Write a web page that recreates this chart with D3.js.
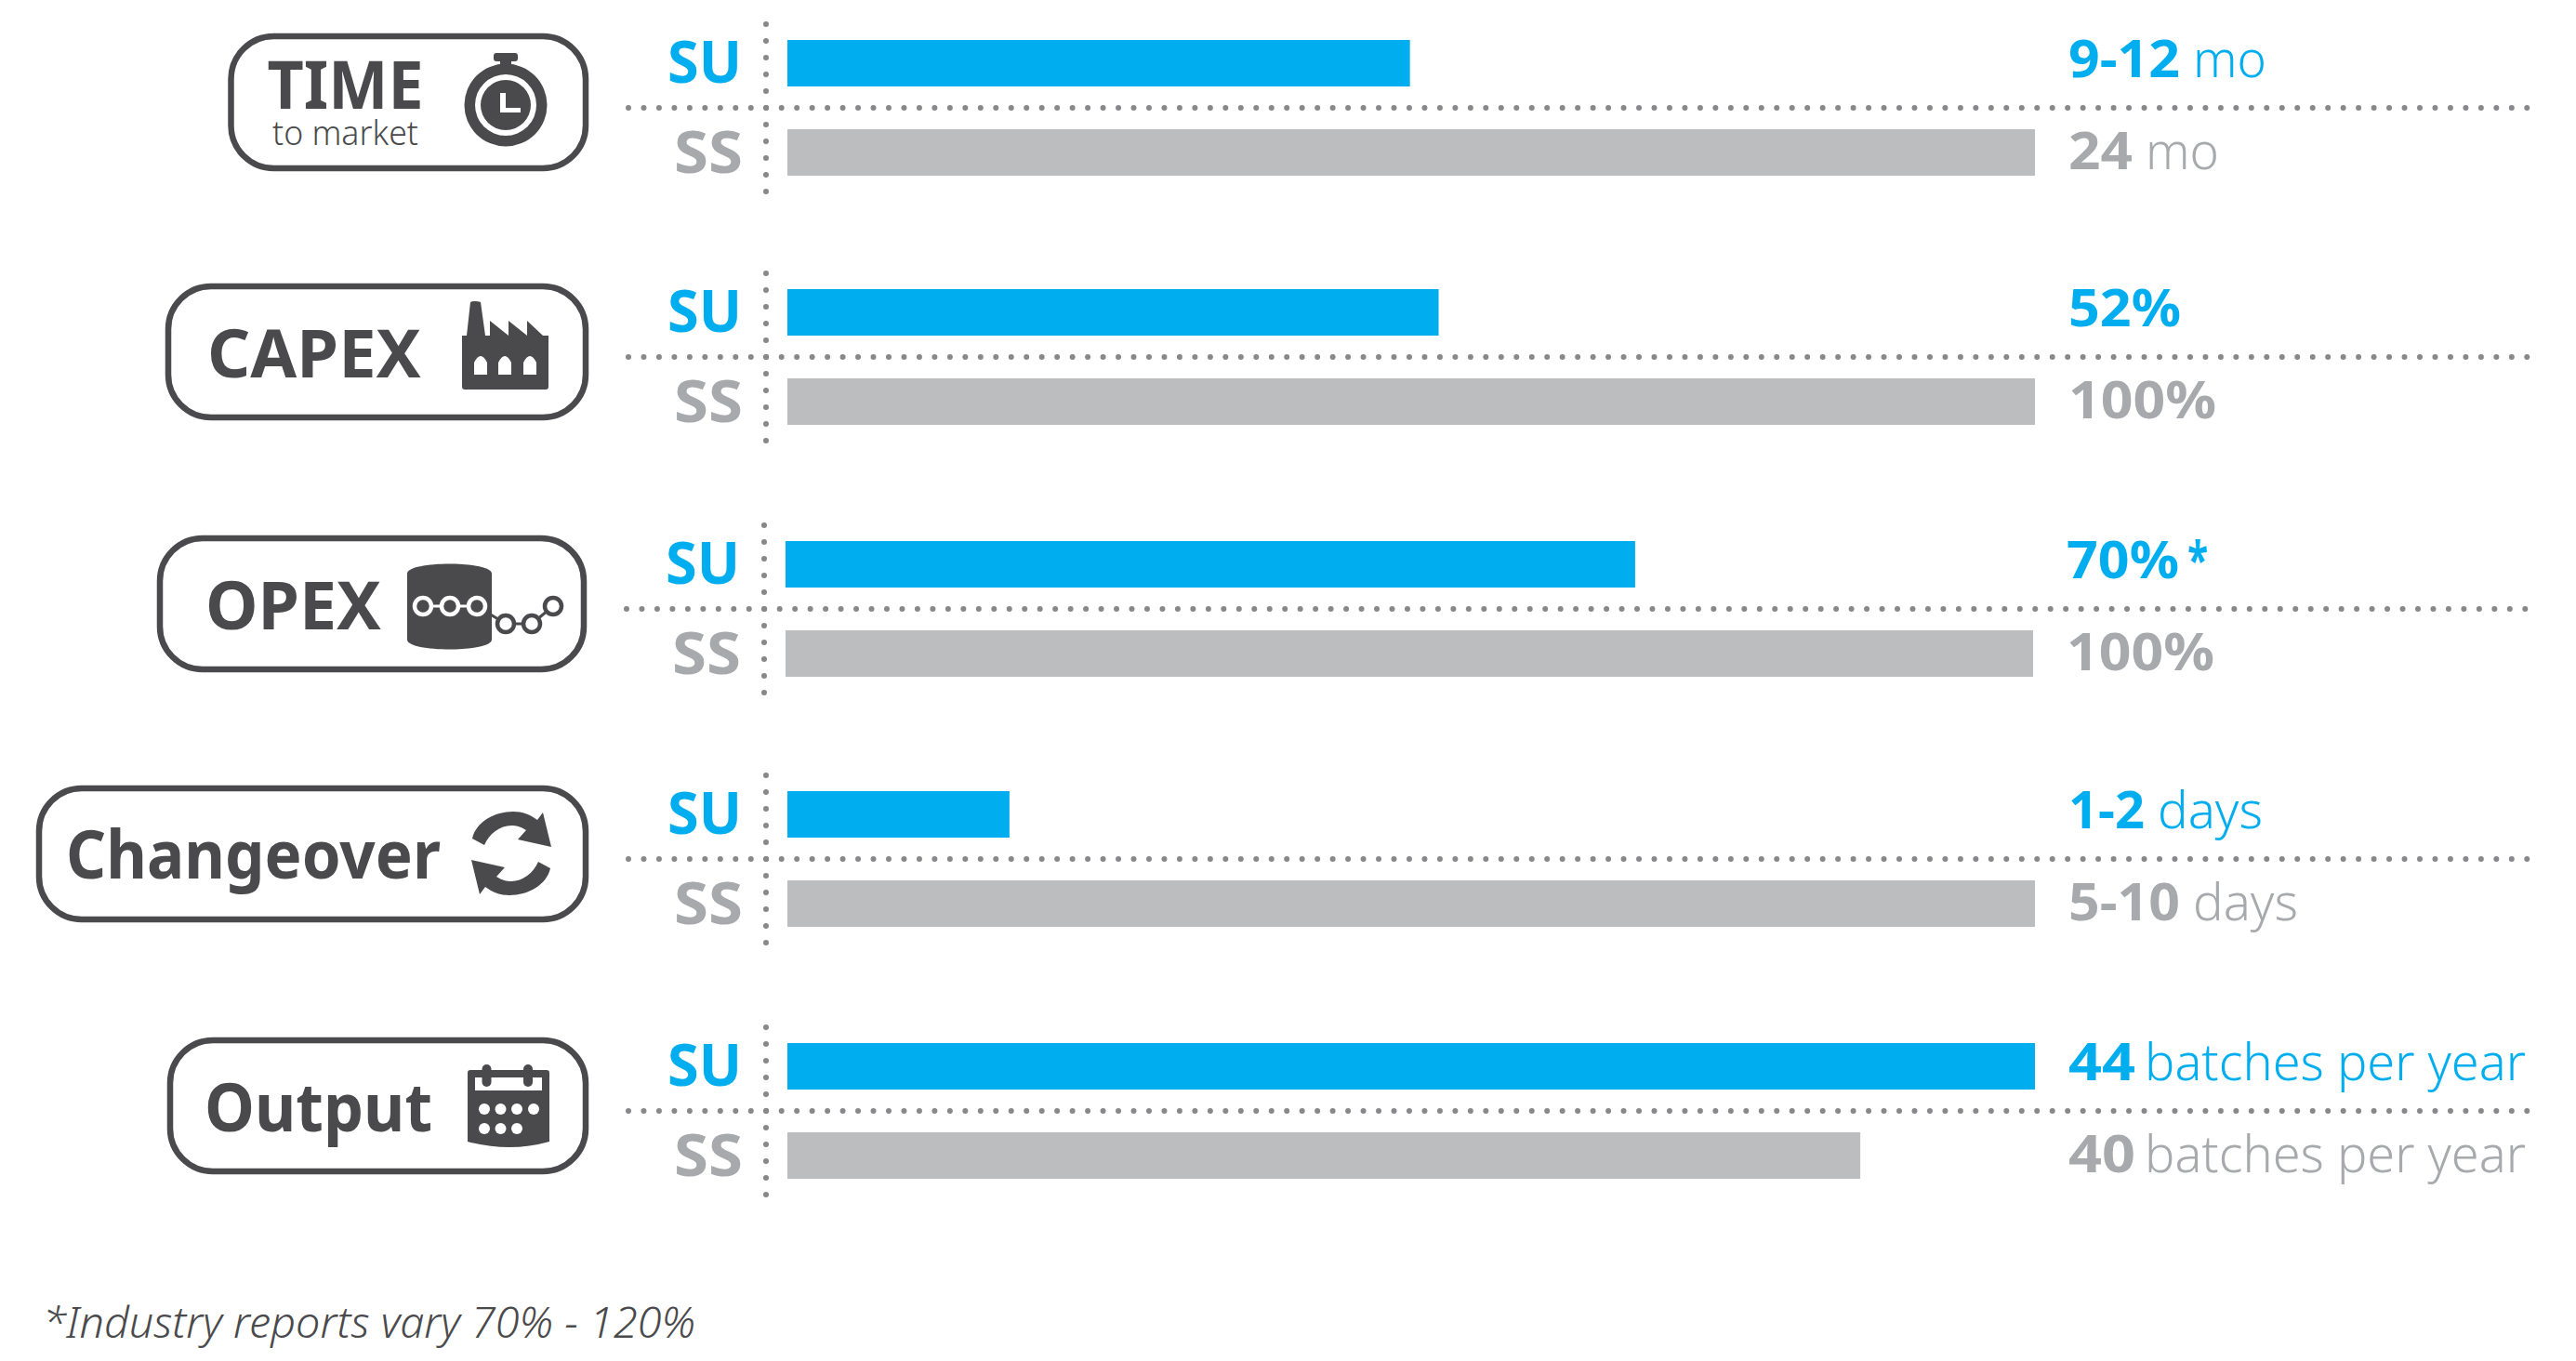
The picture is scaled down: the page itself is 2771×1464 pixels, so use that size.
<!DOCTYPE html>
<html>
<head>
<meta charset="utf-8">
<script src="https://cdn.jsdelivr.net/npm/d3@7"></script>
<style>
  html, body { margin: 0; padding: 0; background: #fff; }
  svg { display: block; }
  text { font-family: "Noto Sans", sans-serif; }
</style>
</head>
<body>
<svg id="chart" width="2771" height="1464"></svg>
<script>
const metrics = ["TIME", "CAPEX", "OPEX", "Changeover", "Output"];
const series = ["SU", "SS"];
// bar lengths as a share of the full bar
const suValues = [49.9, 52.2, 68.1, 17.8, 100];
const ssValues = [100, 100, 100, 100, 86];
const suNumbers = ["9-12", "52%", "70%", "1-2", "44"];
const ssNumbers = ["24", "100%", "100%", "5-10", "40"];
const suUnits = ["mo", "", "*", "days", "batches per year"];
const ssUnits = ["mo", "", "", "days", "batches per year"];
const footnote = "*Industry reports vary 70% - 120%";

// the original typeface is narrower than Noto Sans, so widths are forced to match
const textWidths = {
  "9-12": 120, "52%": 121, "70%": 121, "1-2": 82, "44": 72,
  "24": 69, "100%": 159, "5-10": 120, "40": 72,
  "mo": 79, "days": 113, "batches per year": 410, "*": 22,
  "SU": 80, "SS": 74,
  "TIME": 168, "to market": 157, "CAPEX": 230, "OPEX": 189, "Changeover": 403, "Output": 245
};

const BLUE = "#00aeef", BAR_GREY = "#bbbdbf", TEXT_GREY = "#a7a9ac", DARK = "#4a4a4c", DOTS = "#88888b";

const svg = d3.select("#chart");

const fit = (sel, w) => sel.attr("textLength", w).attr("lengthAdjust", "spacingAndGlyphs");

const x = d3.scaleLinear().domain([0, 100]).range([847, 2189]);
const rowTop = d3.scaleOrdinal().domain(metrics).range([43, 311, 582, 851, 1122]);
const rowShift = d3.scaleOrdinal().domain(metrics).range([0, 0, -2, 0, 0]);
const barTop = d3.scaleOrdinal().domain(series).range([0, 96]);
const barHeight = 50;

const rows = svg.selectAll(".row")
  .data(metrics.map((name, i) => ({
    name,
    su: suValues[i], ss: ssValues[i],
    suNum: suNumbers[i], ssNum: ssNumbers[i],
    suUnit: suUnits[i], ssUnit: ssUnits[i]
  })))
  .enter().append("g")
  .attr("class", "row")
  .attr("transform", d => `translate(${rowShift(d.name)},${rowTop(d.name)})`);

// dotted cross
rows.append("line")
  .attr("x1", 676).attr("x2", 2722).attr("y1", 73).attr("y2", 73)
  .attr("stroke", DOTS).attr("stroke-width", 6).attr("stroke-linecap", "round")
  .attr("stroke-dasharray", "0 16.47");
rows.append("line")
  .attr("x1", 824).attr("x2", 824).attr("y1", -17).attr("y2", 164)
  .attr("stroke", DOTS).attr("stroke-width", 6).attr("stroke-linecap", "round")
  .attr("stroke-dasharray", "0 18");

// bars
rows.selectAll(".bar")
  .data(d => series.map(s => ({ s, v: s === "SU" ? d.su : d.ss })))
  .enter().append("rect")
  .attr("class", "bar")
  .attr("x", x(0))
  .attr("y", d => barTop(d.s))
  .attr("width", d => x(d.v) - x(0))
  .attr("height", barHeight)
  .attr("fill", d => d.s === "SU" ? BLUE : BAR_GREY);

// SU / SS labels
rows.selectAll(".series")
  .data(series)
  .enter().append("text")
  .attr("class", "series")
  .attr("x", s => s === "SU" ? 718 : 725)
  .attr("y", s => s === "SU" ? 46 : 143)
  .attr("font-size", 62)
  .attr("font-weight", 700)
  .attr("fill", s => s === "SU" ? BLUE : TEXT_GREY)
  .text(s => s)
  .each(function (s) { fit(d3.select(this), textWidths[s]); });

// value labels: bold number, light unit
rows.selectAll(".value")
  .data(d => [
    { num: d.suNum, unit: d.suUnit, y: 40, c: BLUE },
    { num: d.ssNum, unit: d.ssUnit, y: 139, c: TEXT_GREY }
  ])
  .enter().append("g")
  .attr("class", "value")
  .attr("fill", d => d.c)
  .attr("font-size", 56)
  .each(function (d) {
    const g = d3.select(this);
    const left = 2225;
    const numW = textWidths[d.num];
    fit(g.append("text").attr("x", left).attr("y", d.y).attr("font-weight", 700).text(d.num), numW);
    if (d.unit) {
      const gap = d.unit === "*" ? 9 : d.unit === "batches per year" ? 10 : 14;
      fit(g.append("text")
        .attr("x", left + numW + gap)
        .attr("y", d.y)
        .attr("font-weight", d.unit === "*" ? 700 : 300)
        .text(d.unit), textWidths[d.unit]);
    }
  });

// pills on the left
const pills = [
  { x0: 245.5, y0: 36, x1: 633, y1: 184 },
  { x0: 178, y0: 305, x1: 633, y1: 452 },
  { x0: 169, y0: 576, x1: 631, y1: 723 },
  { x0: 39, y0: 845, x1: 633, y1: 992 },
  { x0: 180, y0: 1116, x1: 633, y1: 1263 }
];
svg.selectAll(".pill")
  .data(pills)
  .enter().append("rect")
  .attr("class", "pill")
  .attr("x", d => d.x0 + 3)
  .attr("y", d => d.y0 + 3)
  .attr("width", d => d.x1 - d.x0 - 6)
  .attr("height", d => d.y1 - d.y0 - 6)
  .attr("rx", 46)
  .attr("fill", "#fff")
  .attr("stroke", DARK)
  .attr("stroke-width", 6.5);

const pillText = (label, tx, ty, size, weight) => fit(svg.append("text")
  .attr("x", tx).attr("y", ty)
  .attr("font-size", size).attr("font-weight", weight)
  .attr("fill", DARK).text(label), textWidths[label]);

pillText("TIME", 287.5, 117, 71, 700);
pillText("to market", 293, 156, 36, 300);
pillText("CAPEX", 223, 405.5, 71, 700);
pillText("OPEX", 221, 677, 71, 700);
pillText("Changeover", 71, 945, 71, 700);
pillText("Output", 220, 1217, 71, 700);

// stopwatch
const clock = svg.append("g").attr("fill", DARK);
clock.append("rect").attr("x", 531).attr("y", 57).attr("width", 26).attr("height", 9).attr("rx", 3);
clock.append("rect").attr("x", 538).attr("y", 65).attr("width", 12).attr("height", 8);
clock.append("circle").attr("cx", 544).attr("cy", 113).attr("r", 44.5);
clock.append("circle").attr("cx", 544).attr("cy", 113).attr("r", 33).attr("fill", "#fff");
clock.append("circle").attr("cx", 544).attr("cy", 113).attr("r", 27);
clock.append("path").attr("d", "M538 100h6v16h16v5h-22z").attr("fill", "#fff");

// factory
const factory = svg.append("g").attr("fill", DARK);
factory.append("path").attr("d",
  "M497 361 L502 361 L506 325 Q511 323 517 325 L522 361 L527 361 L527 345 L547 361 L547 345 L567 361 L567 345 L584 361 L590 361 L590 416 Q590 419 587 419 L500 419 Q497 419 497 416 Z");
factory.selectAll(".win")
  .data([510, 536, 563])
  .enter().append("path")
  .attr("class", "win")
  .attr("fill", "#fff")
  .attr("d", d => `M${d} 403 V390 Q${d + 7} 376 ${d + 14} 390 V403 Z`);

// database + chain
const db = svg.append("g");
db.append("path").attr("fill", DARK).attr("d",
  "M438 617 C438 603 529 603 529 617 V688 C529 702 438 702 438 688 Z");
const chainLinks = [[455, 652, 484, 652], [484, 652, 513, 652], [513, 652, 544, 671], [544, 671, 572, 671], [572, 671, 595, 652]];
db.selectAll(".lnk").data(chainLinks).enter().append("line")
  .attr("x1", d => d[0]).attr("y1", d => d[1]).attr("x2", d => d[2]).attr("y2", d => d[3])
  .attr("stroke", (d, i) => i < 2 ? "#fff" : DARK).attr("stroke-width", 3);
db.selectAll(".inner").data([455, 484, 513]).enter().append("circle")
  .attr("cx", d => d).attr("cy", 652).attr("r", 9)
  .attr("fill", DARK).attr("stroke", "#fff").attr("stroke-width", 4.5);
db.selectAll(".outer").data([[544, 671], [572, 671], [595, 652]]).enter().append("circle")
  .attr("cx", d => d[0]).attr("cy", d => d[1]).attr("r", 9)
  .attr("fill", "#fff").attr("stroke", DARK).attr("stroke-width", 4.5);

// changeover arrows
const arrow = "M508 902 C512 884 532 873 552 873 C562 873 570 876 578 882 L584 874 L593 911 L557 903 L566 893 C560 889 555 888 550 888 C538 888 526 897 521 909 Z";
const swap = svg.append("g").attr("fill", DARK);
swap.append("path").attr("d", arrow);
swap.append("path").attr("d", arrow).attr("transform", "rotate(180 550 918)");

// calendar
const cal = svg.append("g").attr("fill", DARK);
cal.append("path").attr("d", "M506 1151 H588 Q591 1151 591 1154 V1228 Q548 1240 503 1228 V1154 Q503 1151 506 1151 Z");
cal.append("rect").attr("x", 511).attr("y", 1159).attr("width", 72).attr("height", 14).attr("fill", "#fff");
cal.selectAll(".ring").data([523.5, 568]).enter().append("rect")
  .attr("x", d => d - 5).attr("y", 1145).attr("width", 10).attr("height", 24).attr("rx", 5);
cal.selectAll(".day")
  .data([[521, 1193], [538.5, 1193], [556, 1193], [574, 1193], [521, 1214], [538.5, 1214], [556, 1214]])
  .enter().append("circle")
  .attr("cx", d => d[0]).attr("cy", d => d[1]).attr("r", 6).attr("fill", "#fff");

// footnote
fit(svg.append("text")
  .attr("x", 46).attr("y", 1439)
  .attr("font-size", 46).attr("font-style", "italic").attr("font-weight", 300)
  .attr("fill", DARK)
  .text(footnote), 702);
</script>
</body>
</html>
